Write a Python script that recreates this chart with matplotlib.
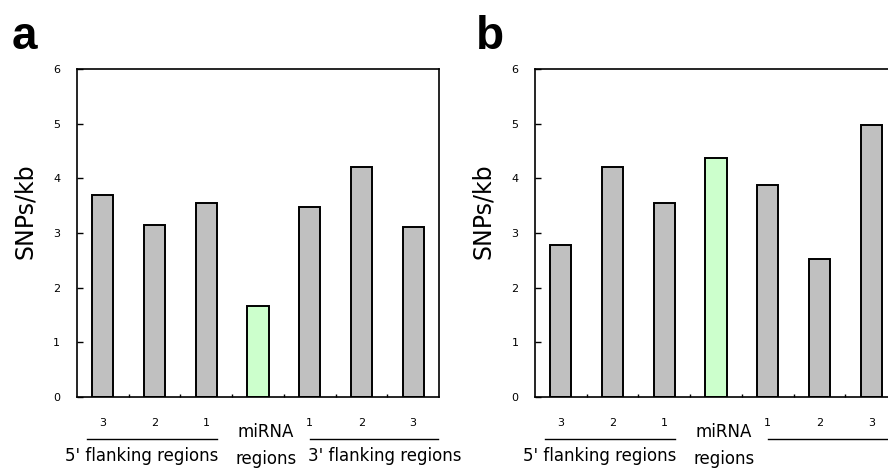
import matplotlib
matplotlib.use("Agg")
import matplotlib.pyplot as plt
import matplotlib.transforms as mtransforms

plt.rcParams['font.family'] = ['DejaVu Sans']

# data
categories = ["5'-3", "5'-2", "5'-1", "miRNA", "3'-1", "3'-2", "3'-3"]
tick_labels = ["3", "2", "1", "", "1", "2", "3"]
snps_a = [3.69, 3.14, 3.55, 1.67, 3.47, 4.21, 3.11]
snps_b = [2.78, 4.21, 3.55, 4.38, 3.88, 2.52, 4.97]
bar_colors = ["#c0c0c0", "#c0c0c0", "#c0c0c0", "#ccffcc", "#c0c0c0", "#c0c0c0", "#c0c0c0"]
yticks = [0, 1, 2, 3, 4, 5, 6]


def draw_panel(ax, values, show_3prime=True):
    x = list(range(len(categories)))
    ax.bar(x, values, width=0.41, color=bar_colors, edgecolor="black", linewidth=1.4, zorder=2)
    ax.set_xlim(-0.5, 6.5)
    ax.set_ylim(0, 6)
    ax.set_yticks(yticks)
    ax.set_ylabel("SNPs/kb", fontsize=17)
    ax.yaxis.set_label_coords(-0.11, 0.567)
    ax.set_xticks(x)
    ax.set_xticklabels(tick_labels, fontsize=8)
    ax.set_xticks([i + 0.5 for i in range(6)], minor=True)
    ax.tick_params(axis="x", which="major", length=0, pad=15)
    ax.tick_params(axis="x", which="minor", direction="in", length=2, width=1)
    ax.tick_params(axis="y", direction="in", length=4, width=1, labelsize=8, pad=12)
    for s in ax.spines.values():
        s.set_linewidth(1.2)

    tr = mtransforms.blended_transform_factory(ax.transData, ax.transAxes)
    ax.plot([-0.3, 2.2], [-0.128, -0.128], color="black", lw=1, transform=tr, clip_on=False)
    ax.plot([4.0, 6.48], [-0.128, -0.128], color="black", lw=1, transform=tr, clip_on=False)
    ax.text(0.75, -0.18, "5' flanking regions", transform=tr, ha="center", va="center", fontsize=12)
    ax.text(3.15, -0.107, "miRNA", transform=tr, ha="center", va="center", fontsize=12)
    ax.text(3.15, -0.19, "regions", transform=tr, ha="center", va="center", fontsize=12)
    if show_3prime:
        ax.text(3.97, -0.18, "3' flanking regions", transform=tr, ha="left", va="center", fontsize=12)


fig = plt.figure(figsize=(8.88, 4.68), dpi=100)
ax_a = fig.add_axes([0.0867, 0.1517, 0.4077, 0.7009])
ax_b = fig.add_axes([0.6025, 0.1517, 0.4077, 0.7009])
draw_panel(ax_a, snps_a)
draw_panel(ax_b, snps_b, show_3prime=False)

fig.text(12 / 888, 0.922, "a", fontsize=33, fontweight="bold", family="Liberation Sans",
         ha="left", va="center")
fig.text(476 / 888, 0.922, "b", fontsize=33, fontweight="bold", family="Liberation Sans",
         ha="left", va="center")

fig.savefig("out.png", dpi=100)
